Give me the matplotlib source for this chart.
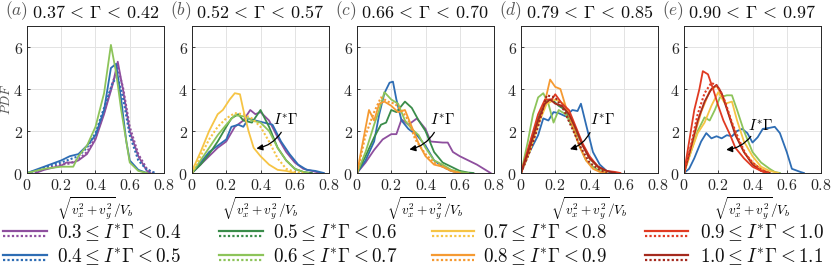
import matplotlib
matplotlib.use("Agg")
import matplotlib.pyplot as plt
from matplotlib.lines import Line2D

plt.rcParams['mathtext.fontset'] = 'cm'
plt.rcParams['font.family'] = ['DejaVu Serif']

# ---------------- colours per I*Gamma bin ----------------
bin_labels = [r'$0.3 \leq I^{*}\Gamma < 0.4$', r'$0.4 \leq I^{*}\Gamma < 0.5$',
              r'$0.5 \leq I^{*}\Gamma < 0.6$', r'$0.6 \leq I^{*}\Gamma < 0.7$',
              r'$0.7 \leq I^{*}\Gamma < 0.8$', r'$0.8 \leq I^{*}\Gamma < 0.9$',
              r'$0.9 \leq I^{*}\Gamma < 1.0$', r'$1.0 \leq I^{*}\Gamma < 1.1$']
bin_colors = ['#8E4F9E', '#2E6DB4', '#3A8C4A', '#8DC45A',
              '#F6C445', '#F59A32', '#E03A22', '#A52A1E']

panel_titles = [r'$0.37\,<\,\Gamma\,<\,0.42$', r'$0.52\,<\,\Gamma\,<\,0.57$',
                r'$0.66\,<\,\Gamma\,<\,0.70$', r'$0.79\,<\,\Gamma\,<\,0.85$',
                r'$0.90\,<\,\Gamma\,<\,0.97$']
panel_letters = ['a', 'b', 'c', 'd', 'e']
xticks = [0, 0.2, 0.4, 0.6, 0.8]
yticks = [0, 2, 4, 6]

# ---------------- panel (a) ----------------
a_purple_x = [0.05, 0.1, 0.15, 0.2, 0.23, 0.27, 0.3, 0.35, 0.4, 0.45, 0.5, 0.53, 0.56, 0.6, 0.65, 0.7, 0.72]
a_purple_y = [0, 0.15, 0.25, 0.35, 0.5, 0.5, 0.6, 0.9, 1.6, 2.8, 4.2, 5.3, 4.0, 2.0, 0.8, 0.1, 0]
a_purple_dot_x = [0.05, 0.1, 0.15, 0.2, 0.25, 0.3, 0.35, 0.4, 0.45, 0.5, 0.53, 0.56, 0.6, 0.65, 0.7, 0.74]
a_purple_dot_y = [0, 0.2, 0.3, 0.4, 0.45, 0.65, 1.0, 1.7, 2.9, 4.3, 5.0, 4.1, 2.2, 0.9, 0.2, 0]
a_blue_x = [0, 0.05, 0.1, 0.15, 0.2, 0.25, 0.3, 0.35, 0.4, 0.45, 0.49, 0.52, 0.55, 0.58, 0.6, 0.65, 0.7]
a_blue_y = [0, 0.15, 0.3, 0.45, 0.6, 0.8, 0.9, 1.3, 1.8, 3.0, 5.0, 5.2, 3.5, 1.5, 0.6, 0.15, 0]
a_blue_dot_x = [0, 0.05, 0.1, 0.15, 0.2, 0.25, 0.3, 0.35, 0.4, 0.45, 0.5, 0.53, 0.56, 0.6, 0.65, 0.7, 0.75]
a_blue_dot_y = [0, 0.1, 0.25, 0.4, 0.5, 0.65, 0.8, 1.2, 1.9, 3.1, 4.3, 4.6, 3.6, 1.8, 0.6, 0.15, 0]
a_lgreen_x = [0, 0.1, 0.2, 0.27, 0.3, 0.35, 0.4, 0.45, 0.49, 0.52, 0.55, 0.58, 0.6, 0.65, 0.7]
a_lgreen_y = [0, 0.2, 0.3, 0.3, 0.8, 1.3, 2.2, 3.8, 6.1, 4.8, 3.0, 1.5, 0.5, 0.1, 0]

# ---------------- panel (b) ----------------
b_purple_x = [0, 0.05, 0.1, 0.15, 0.2, 0.25, 0.3, 0.34, 0.37, 0.4, 0.45, 0.5, 0.55, 0.6, 0.65, 0.7, 0.75]
b_purple_y = [0, 0.4, 0.8, 1.2, 1.5, 2.2, 2.5, 3.0, 2.8, 2.9, 2.5, 1.7, 1.0, 0.5, 0.2, 0.1, 0]
b_blue_x = [0, 0.05, 0.1, 0.15, 0.2, 0.23, 0.27, 0.3, 0.33, 0.37, 0.42, 0.47, 0.52, 0.57, 0.62, 0.67, 0.72, 0.77]
b_blue_y = [0, 0.5, 1.0, 1.3, 1.6, 2.2, 2.3, 2.2, 2.6, 2.5, 2.4, 2.3, 1.5, 0.9, 0.4, 0.15, 0.1, 0]
b_dgreen_x = [0, 0.05, 0.1, 0.15, 0.2, 0.23, 0.27, 0.3, 0.35, 0.4, 0.45, 0.5, 0.55, 0.6, 0.65, 0.7]
b_dgreen_y = [0, 0.4, 0.9, 1.5, 2.2, 2.6, 2.8, 2.5, 2.4, 3.0, 2.2, 1.2, 0.6, 0.2, 0.05, 0]
b_lgreen_x = [0, 0.05, 0.1, 0.15, 0.2, 0.25, 0.3, 0.35, 0.4, 0.45, 0.5, 0.55, 0.6, 0.65, 0.68]
b_lgreen_y = [0, 0.6, 1.2, 1.8, 2.3, 2.75, 2.7, 2.5, 2.4, 2.0, 1.2, 0.6, 0.2, 0.05, 0]
b_yellow_x = [0, 0.05, 0.1, 0.15, 0.18, 0.22, 0.25, 0.28, 0.3, 0.33, 0.36, 0.4, 0.45, 0.5, 0.55, 0.6]
b_yellow_y = [0.1, 1.0, 2.0, 2.8, 3.0, 3.5, 3.8, 3.75, 3.0, 2.0, 1.2, 0.8, 0.4, 0.15, 0.1, 0]
b_yellow_dot_x = [0, 0.05, 0.1, 0.15, 0.2, 0.25, 0.3, 0.35, 0.4, 0.45, 0.5, 0.55, 0.6, 0.65]
b_yellow_dot_y = [0, 0.8, 1.6, 2.2, 2.6, 2.85, 2.8, 2.6, 2.2, 1.5, 0.7, 0.2, 0.05, 0]

# ---------------- panel (c) ----------------
c_purple_x = [0, 0.05, 0.1, 0.15, 0.2, 0.23, 0.26, 0.3, 0.35, 0.4, 0.43, 0.5, 0.53, 0.56, 0.6, 0.65, 0.7, 0.75, 0.78]
c_purple_y = [0, 0.5, 1.1, 1.6, 1.85, 1.85, 2.55, 2.3, 2.6, 2.1, 1.5, 1.45, 1.45, 1.0, 0.8, 0.6, 0.4, 0.15, 0]
c_blue_x = [0, 0.05, 0.1, 0.13, 0.16, 0.19, 0.21, 0.23, 0.26, 0.3, 0.35, 0.4, 0.45, 0.5, 0.55, 0.6]
c_blue_y = [0, 0.6, 1.5, 2.8, 3.8, 4.3, 4.35, 3.5, 2.5, 2.1, 1.8, 1.3, 0.6, 0.3, 0.1, 0]
c_dgreen_x = [0, 0.05, 0.1, 0.14, 0.17, 0.2, 0.23, 0.28, 0.32, 0.36, 0.4, 0.45, 0.5, 0.55, 0.6, 0.65, 0.68]
c_dgreen_y = [0, 0.8, 1.7, 2.3, 2.4, 3.0, 2.9, 3.4, 3.1, 2.5, 2.0, 1.0, 0.5, 0.3, 0.1, 0.02, 0]
c_lgreen_x = [0, 0.05, 0.1, 0.13, 0.16, 0.2, 0.24, 0.28, 0.32, 0.36, 0.4, 0.45, 0.5, 0.55, 0.6, 0.65]
c_lgreen_y = [0, 1.0, 2.3, 3.0, 3.85, 3.5, 3.3, 2.5, 2.1, 1.8, 1.2, 0.6, 0.4, 0.15, 0.05, 0]
c_orange_x = [0, 0.03, 0.07, 0.1, 0.13, 0.16, 0.2, 0.24, 0.28, 0.32, 0.36, 0.4, 0.45, 0.5, 0.55, 0.6]
c_orange_y = [0, 1.3, 3.0, 2.5, 3.3, 3.4, 3.2, 2.9, 3.0, 2.2, 1.4, 0.8, 0.4, 0.3, 0.1, 0]
c_orange_dot_x = [0, 0.05, 0.1, 0.14, 0.18, 0.22, 0.26, 0.3, 0.34, 0.4, 0.45, 0.5, 0.55, 0.6]
c_orange_dot_y = [0, 1.8, 2.9, 3.6, 3.4, 3.3, 3.0, 2.5, 1.6, 0.9, 0.5, 0.3, 0.1, 0]

# ---------------- panel (d) ----------------
d_blue_x = [0, 0.05, 0.1, 0.13, 0.16, 0.19, 0.22, 0.26, 0.3, 0.33, 0.35, 0.38, 0.42, 0.46, 0.5, 0.53]
d_blue_y = [0, 1.0, 1.8, 2.6, 2.5, 2.9, 2.85, 2.7, 3.0, 2.95, 3.3, 2.3, 1.0, 0.4, 0.1, 0]
d_dgreen_x = [0, 0.05, 0.1, 0.14, 0.18, 0.22, 0.26, 0.3, 0.35, 0.4, 0.45, 0.5]
d_dgreen_y = [0, 1.3, 2.6, 3.4, 3.5, 3.2, 3.0, 2.3, 1.5, 0.7, 0.3, 0]
d_lgreen_x = [0, 0.04, 0.07, 0.1, 0.13, 0.16, 0.19, 0.22, 0.26, 0.3, 0.34, 0.38, 0.42, 0.46, 0.5]
d_lgreen_y = [0, 1.5, 2.8, 3.6, 3.8, 3.3, 2.4, 3.0, 2.8, 2.2, 1.3, 0.6, 0.3, 0.1, 0]
d_yellow_x = [0, 0.05, 0.1, 0.15, 0.2, 0.25, 0.3, 0.35, 0.4, 0.45, 0.5]
d_yellow_y = [0, 1.0, 2.3, 3.3, 3.5, 3.3, 2.5, 1.5, 0.7, 0.3, 0.05]
d_orange_x = [0, 0.05, 0.1, 0.14, 0.17, 0.2, 0.23, 0.26, 0.3, 0.34, 0.38, 0.42, 0.46, 0.5]
d_orange_y = [0, 1.2, 2.4, 3.4, 4.45, 4.1, 4.0, 3.2, 2.3, 1.3, 0.6, 0.2, 0.05, 0]
d_red_x = [0, 0.05, 0.1, 0.14, 0.18, 0.2, 0.24, 0.28, 0.32, 0.36, 0.4, 0.45, 0.5, 0.55, 0.58]
d_red_y = [0, 1.4, 2.8, 3.5, 3.5, 3.75, 3.3, 3.0, 2.2, 1.4, 0.8, 0.3, 0.1, 0.05, 0]
d_dred_x = [0, 0.05, 0.1, 0.14, 0.17, 0.2, 0.24, 0.28, 0.32, 0.36, 0.4, 0.45, 0.5, 0.55]
d_dred_y = [0, 1.2, 2.5, 3.3, 3.5, 3.3, 3.2, 2.8, 2.1, 1.3, 0.7, 0.3, 0.1, 0]
d_dred_dot_x = [0, 0.05, 0.1, 0.15, 0.2, 0.25, 0.3, 0.35, 0.4, 0.45, 0.5]
d_dred_dot_y = [0, 1.0, 2.2, 3.7, 3.6, 3.0, 2.1, 1.2, 0.5, 0.2, 0]

# ---------------- panel (e) ----------------
e_blue_x = [0, 0.03, 0.06, 0.1, 0.13, 0.16, 0.19, 0.22, 0.25, 0.28, 0.31, 0.34, 0.37, 0.4, 0.43, 0.46, 0.5, 0.53, 0.56, 0.6, 0.63, 0.68, 0.7]
e_blue_y = [0, 0.2, 0.7, 1.5, 1.9, 1.65, 1.75, 1.65, 1.8, 1.75, 2.0, 2.1, 1.9, 1.45, 1.7, 2.1, 2.15, 2.2, 1.9, 1.0, 0.2, 0.05, 0]
e_lgreen_x = [0, 0.04, 0.08, 0.12, 0.15, 0.18, 0.21, 0.25, 0.28, 0.31, 0.35, 0.4, 0.45, 0.5, 0.53, 0.56]
e_lgreen_y = [0, 1.0, 2.0, 2.65, 2.5, 3.0, 3.6, 3.7, 3.7, 3.0, 2.0, 1.0, 0.5, 0.2, 0.05, 0]
e_yellow_x = [0, 0.04, 0.08, 0.12, 0.16, 0.2, 0.24, 0.28, 0.31, 0.35, 0.4, 0.45, 0.5, 0.55]
e_yellow_y = [0, 1.0, 1.9, 2.4, 3.2, 3.85, 3.3, 3.4, 2.5, 1.5, 0.8, 0.3, 0.1, 0]
e_orange_x = [0, 0.05, 0.1, 0.15, 0.19, 0.23, 0.27, 0.31, 0.35, 0.4, 0.45, 0.5]
e_orange_y = [0, 1.5, 2.9, 3.9, 4.15, 3.6, 2.6, 1.7, 1.0, 0.5, 0.2, 0]
e_red_x = [0, 0.03, 0.06, 0.09, 0.11, 0.14, 0.17, 0.2, 0.23, 0.27, 0.3, 0.35, 0.4, 0.45, 0.48]
e_red_y = [0, 1.5, 3.0, 4.0, 4.85, 4.7, 4.0, 3.2, 2.5, 1.8, 1.2, 0.7, 0.3, 0.1, 0]
e_red_dot_x = [0, 0.04, 0.08, 0.12, 0.16, 0.2, 0.24, 0.28, 0.32, 0.36, 0.4, 0.45, 0.5]
e_red_dot_y = [0, 1.3, 2.8, 3.8, 4.3, 4.1, 3.4, 2.4, 1.6, 0.9, 0.5, 0.15, 0]
e_dred_x = [0, 0.04, 0.08, 0.12, 0.16, 0.19, 0.22, 0.26, 0.3, 0.35, 0.4, 0.45, 0.5]
e_dred_y = [0, 1.2, 2.5, 3.4, 4.0, 4.2, 3.8, 2.8, 1.8, 1.0, 0.4, 0.1, 0]

# (x, y, colour index, dotted?)
panels = [
    [(a_purple_dot_x, a_purple_dot_y, 0, True), (a_purple_x, a_purple_y, 0, False),
     (a_blue_dot_x, a_blue_dot_y, 1, True), (a_blue_x, a_blue_y, 1, False),
     (a_lgreen_x, a_lgreen_y, 3, False)],
    [(b_purple_x, b_purple_y, 0, False), (b_blue_x, b_blue_y, 1, False),
     (b_dgreen_x, b_dgreen_y, 2, False), (b_lgreen_x, b_lgreen_y, 3, False),
     (b_yellow_x, b_yellow_y, 4, False), (b_yellow_dot_x, b_yellow_dot_y, 4, True)],
    [(c_purple_x, c_purple_y, 0, False), (c_blue_x, c_blue_y, 1, False),
     (c_dgreen_x, c_dgreen_y, 2, False), (c_lgreen_x, c_lgreen_y, 3, False),
     (c_orange_x, c_orange_y, 5, False), (c_orange_dot_x, c_orange_dot_y, 5, True)],
    [(d_blue_x, d_blue_y, 1, False), (d_dgreen_x, d_dgreen_y, 2, False),
     (d_lgreen_x, d_lgreen_y, 3, False), (d_yellow_x, d_yellow_y, 4, False),
     (d_orange_x, d_orange_y, 5, False), (d_red_x, d_red_y, 6, False),
     (d_dred_x, d_dred_y, 7, False), (d_dred_dot_x, d_dred_dot_y, 7, True)],
    [(e_blue_x, e_blue_y, 1, False), (e_lgreen_x, e_lgreen_y, 3, False),
     (e_yellow_x, e_yellow_y, 4, False), (e_orange_x, e_orange_y, 5, False),
     (e_dred_x, e_dred_y, 7, False), (e_red_x, e_red_y, 6, False),
     (e_red_dot_x, e_red_dot_y, 6, True)],
]

# arrow annotation (text pos, arrow start, arrow end) per panel b-e
arrows = [None,
          ((0.55, 2.55), (0.53, 2.05), (0.36, 1.15)),
          ((0.50, 2.55), (0.46, 2.05), (0.29, 1.10)),
          ((0.48, 2.55), (0.41, 2.05), (0.27, 1.10)),
          ((0.45, 2.25), (0.40, 1.85), (0.23, 1.10))]

W, H = 831, 271
fig = plt.figure(figsize=(W / 100, H / 100), dpi=100)
lefts_px = [27, 192, 357, 521, 684]
for i, left in enumerate(lefts_px):
    ax = fig.add_axes([left / W, (H - 173) / H, 137 / W, 147 / H])
    ax.set_xlim(0, 0.8)
    ax.set_ylim(0, 7)
    ax.grid(True, color='#E3E3E3', lw=0.7)
    ax.set_axisbelow(True)
    for sp in ax.spines.values():
        sp.set_color('#262626')
        sp.set_linewidth(0.7)
    ax.set_xticks(xticks)
    ax.set_xticklabels([r'$%g$' % t for t in xticks], fontsize=11.5)
    ax.set_yticks(yticks)
    ax.set_yticklabels([r'$\mathbf{%g}$' % t for t in yticks], fontsize=11.5)
    ax.tick_params(direction='in', length=2.5, width=0.6, pad=3, colors='#262626')
    for x, y, ci, dotted in panels[i]:
        ax.plot(x, y, color=bin_colors[ci], lw=1.5 if dotted else 1.3,
                ls=(0, (1, 1)) if dotted else '-')
    ax.set_xlabel(r'$\sqrt{v_x^2+v_y^2}/V_b$', fontsize=9.5, labelpad=1)
    ax.text(-0.16, 1.03, r'$(%s)$' % panel_letters[i], transform=ax.transAxes,
            fontsize=12.5, color='#555555', ha='left', va='bottom')
    ax.text(0.5, 1.03, panel_titles[i], transform=ax.transAxes,
            fontsize=13, color='#111111', ha='center', va='bottom')
    if i == 0:
        ax.set_ylabel(r'$PDF$', fontsize=9.5, color='#555555')
        ax.yaxis.set_label_coords(-0.105, 0.5)
    if arrows[i] is not None:
        tpos, st, en = arrows[i]
        ax.text(tpos[0], tpos[1], r'$I^{*}\Gamma$', fontsize=11, ha='center', va='center')
        ax.annotate('', xy=en, xytext=st,
                    arrowprops=dict(arrowstyle='-|>', color='black', lw=0.9,
                                    mutation_scale=9,
                                    connectionstyle='arc3,rad=-0.25'))

# legend (drawn manually: solid over dotted for each bin)
col_handle_x = [(3, 47), (219, 263), (432, 474), (645, 688)]
col_text_x = [57, 273, 483, 700]
row_y = [233, 257]
for k, (lab, col) in enumerate(zip(bin_labels, bin_colors)):
    c, r = k // 2, k % 2
    x0, x1 = col_handle_x[c]
    yc = row_y[r]
    fig.add_artist(Line2D([x0 / W, x1 / W], [1 - (yc - 2.5) / H] * 2,
                          color=col, lw=1.6, transform=fig.transFigure))
    fig.add_artist(Line2D([x0 / W, x1 / W], [1 - (yc + 2.5) / H] * 2,
                          color=col, lw=1.6, ls=(0, (1, 1)), transform=fig.transFigure))
    fig.text(col_text_x[c] / W, 1 - yc / H, lab, fontsize=13.8,
             ha='left', va='center', color='#111111')

fig.savefig('out.png', dpi=100)
